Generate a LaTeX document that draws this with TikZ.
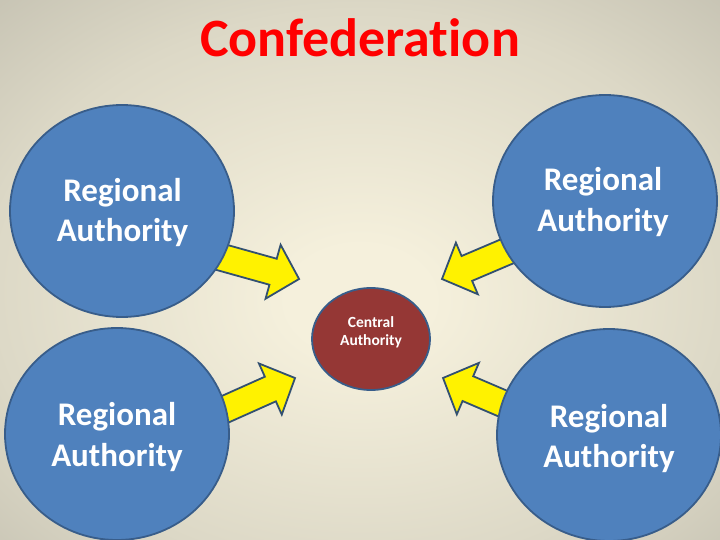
\documentclass[tikz,border=0pt]{standalone}
\usepackage{fontspec}
\setmainfont[Ligatures=NoCommon]{Carlito}
\usetikzlibrary{shapes.geometric}
\definecolor{bgA}{RGB}{245,240,220}
\definecolor{bgB}{RGB}{220,216,198}
\definecolor{bgC}{RGB}{182,179,165}
\definecolor{bgD}{RGB}{150,147,136}
\definecolor{regFill}{RGB}{79,129,189}
\definecolor{regLine}{RGB}{56,93,138}
\definecolor{cenFill}{RGB}{149,55,53}
\definecolor{arrLine}{RGB}{50,80,112}
\definecolor{titleRed}{RGB}{255,0,0}
\pgfdeclareradialshading{bgshade}{\pgfpoint{0bp}{-3bp}}{color(0bp)=(bgA); color(5bp)=(bgA); color(26bp)=(bgB); color(46bp)=(bgC); color(75bp)=(bgD)}
\tikzset{
  regional/.style={ellipse, draw=regLine, line width=1.8pt, fill=regFill, minimum width=224pt, minimum height=212pt, inner sep=0pt},
  central/.style={ellipse, draw=regLine, line width=1.8pt, fill=cenFill, minimum width=118pt, minimum height=102pt, inner sep=0pt},
  regtext/.style={anchor=base, text=white, font=\fontsize{33}{40}\selectfont\bfseries, inner sep=0pt},
  centext/.style={anchor=base, text=white, font=\fontsize{15.5}{19}\selectfont\bfseries, inner sep=0pt},
  arrowsty/.style={draw=arrLine, line width=1.8pt, fill=yellow, line join=miter},
}
\newcommand{\blockarr}[3]{%
  \begin{scope}[shift={(#1)}, rotate=#2]
    \draw[arrowsty] (0,-13.5) -- ({#3-27},-13.5) -- ({#3-27},-28) -- (#3,0)
      -- ({#3-27},28) -- ({#3-27},13.5) -- (0,13.5) -- cycle;
  \end{scope}}
\begin{document}
\begin{tikzpicture}[x=1pt,y=-1pt]
  \useasboundingbox (0,0) rectangle (720,540);
  \shade[shading=bgshade] (0,0) rectangle (720,540);
  % title
  \node[anchor=base, text=titleRed, font=\fontsize{54}{62}\selectfont\bfseries, inner sep=0pt] (title) at (360,57) {Confederation};
  % arrows (drawn below the circles)
  \blockarr{212.4,254.8}{-15.6}{90}
  \blockarr{514.7,248.1}{-156.96}{79}
  \blockarr{215.4,413.6}{24.08}{87.2}
  \blockarr{511.7,407.4}{156.8}{74.7}
  % circles
  \node[regional] (tl) at (122,211) {};
  \node[regional] (tr) at (605,201) {};
  \node[regional] (bl) at (117,434) {};
  \node[regional] (br) at (609,435) {};
  \node[central] (c) at (371,339) {};
  % texts
  \node[regtext] (tl1) at (122.5,202) {Regional};
  \node[regtext] (tl2) at (122.5,241) {Authority};
  \node[regtext] (tr1) at (603,191) {Regional};
  \node[regtext] (tr2) at (603,231) {Authority};
  \node[regtext] (bl1) at (117,425) {Regional};
  \node[regtext] (bl2) at (117,466) {Authority};
  \node[regtext] (br1) at (609,427) {Regional};
  \node[regtext] (br2) at (609,467) {Authority};
  \node[centext] (c1) at (371,327) {Central};
  \node[centext] (c2) at (371,345) {Authority};
\end{tikzpicture}
\end{document}
